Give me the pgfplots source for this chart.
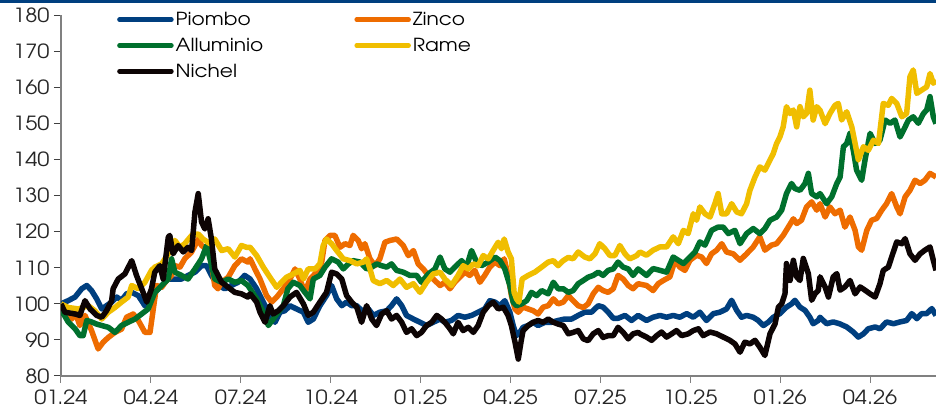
\documentclass[border=0pt]{standalone}
\usepackage{fontspec}
\setmainfont{TeX Gyre Adventor}[FakeStretch=1.12]
\usepackage{pgfplots}
\pgfplotsset{compat=1.18}
\definecolor{cPiombo}{RGB}{0,63,127}
\definecolor{cZinco}{RGB}{238,108,0}
\definecolor{cAllu}{RGB}{0,112,45}
\definecolor{cRame}{RGB}{240,190,0}
\definecolor{cNichel}{RGB}{13,4,4}
\definecolor{cAxis}{RGB}{128,128,128}
\begin{document}
\begin{tikzpicture}
\begin{axis}[
  at={(0pt,0pt)}, anchor=south west,
  scale only axis, width=875pt, height=360.5pt,
  xmin=0, xmax=29.2, ymin=80, ymax=180,
  axis x line*=bottom, axis y line*=left,
  axis line style={cAxis, line width=1.4pt},
  xtick={0,3,6,9,12,15,18,21,24,27},
  xticklabels={01.24,04.24,07.24,10.24,01.25,04.25,07.25,10.25,01.26,04.26},
  ytick={80,90,...,180},
  tick align=outside, major tick length=7pt,
  x tick style={cAxis, line width=1pt},
  y tick style={black!75, line width=1pt},
  tick label style={font=\fontsize{19.5}{22}\selectfont, text=black!85},
  /pgf/number format/assume math mode=true,
  xticklabel style={yshift=-3pt},
  yticklabel style={xshift=-1pt},
  legend columns=2,
  legend cell align=left,
  legend style={draw=none, fill=none, at={(0.064,1.015)}, anchor=north west,
    font=\fontsize{18}{21}\selectfont, inner sep=0pt, row sep=7pt,
    /tikz/every even column/.append style={column sep=89pt}},
  legend image code/.code={\draw[#1, line width=4.5pt, line cap=round] (0pt,0pt) -- (52pt,0pt);},
  every axis plot/.append style={line width=5.5pt, line join=round},
]
% Piombo
\addplot[cPiombo] coordinates {
(0,100) (0.24,100.9) (0.47,101.9) (0.69,104.2) (0.86,105.1) (1.02,103.7) (1.19,101.4) (1.36,98.6) (1.52,99.5) (1.69,100.5) (1.86,101.9) (2.02,101.0) (2.19,102.8) (2.36,103.2) (2.58,102.3) (2.80,99.5) (2.97,100) (3.13,103.2) (3.36,105.1) (3.58,106.9) (3.80,106.9) (4.02,106.9) (4.24,107.9) (4.47,108.8) (4.69,110.6) (4.86,110.6) (5.02,107.9) (5.24,105.1) (5.47,104.2) (5.69,105.1) (5.91,106.0) (6.13,107.9)
(6.31,106.9) (6.53,104.2) (6.75,100.5) (6.97,96.8) (7.14,94.9) (7.31,97.7) (7.47,98.1) (7.64,99.5) (7.86,98.6) (8.09,97.7) (8.25,94.9) (8.42,95.8) (8.64,99.5) (8.86,102.3) (9.03,105.1) (9.20,101.4) (9.37,99.5) (9.53,100.5) (9.70,99.5) (9.87,99.5) (10.09,97.7) (10.26,98.6) (10.42,96.8) (10.64,97.7) (10.87,98.1) (11.03,99.5) (11.20,101.4) (11.37,99.5) (11.53,96.8) (11.76,95.8) (11.98,94.9) (12.20,94.0) (12.42,94.9) (12.65,95.8)
(12.81,94.9) (13.03,95.4) (13.25,96.8) (13.48,96.3) (13.70,96.8) (13.92,97.7) (14.14,98.6) (14.31,100.9) (14.48,100.5) (14.65,99.5) (14.81,100.9) (14.98,97.7) (15.09,94.0) (15.20,91.2) (15.31,92.1) (15.42,93.5) (15.59,94.0) (15.76,94.9) (15.92,94.0) (16.15,94.9) (16.37,94.9) (16.59,95.4) (16.81,95.8) (17.04,95.8) (17.26,96.8) (17.48,97.7) (17.70,97.7) (17.93,99.5) (18.09,99.1) (18.26,97.7) (18.43,96.0) (18.59,96.0) (18.82,96.8) (19.04,95.4) (19.26,96.8)
(19.54,95.4) (19.76,96.3) (19.99,96.8) (20.21,96.3) (20.43,96.8) (20.65,96.3) (20.88,97.3) (21.10,96.3) (21.32,97.7) (21.54,95.4) (21.77,97.3) (21.99,97.7) (22.21,98.6) (22.38,101.0) (22.55,98.2) (22.71,96.3) (22.88,96.8) (23.10,96.3) (23.27,95.4) (23.44,94.0) (23.60,94.9) (23.77,96.3) (23.99,97.3) (24.21,99.1) (24.38,100.0) (24.49,101.0) (24.66,99.1) (24.83,98.2) (24.99,96.3) (25.10,94.5) (25.27,95.4)
(25.33,96.3) (25.55,94.5) (25.77,95.0) (25.98,94.5) (26.22,93.6) (26.44,92.2) (26.61,90.8) (26.78,91.7) (26.94,93.1) (27.17,93.6) (27.33,93.1) (27.55,95.0) (27.78,94.5) (28.00,95.0) (28.22,95.4) (28.39,97.3) (28.56,95.9) (28.72,97.3) (28.89,97.3) (29.06,98.7) (29.20,96.8)
};
\addlegendentry{Piombo}
% Zinco
\addplot[cZinco] coordinates {
(0,100) (0.13,97.7) (0.36,95.8) (0.47,97.7) (0.63,94.0) (0.80,96.8) (1.02,92.6) (1.24,87.5) (1.41,89.4) (1.58,90.7) (1.80,92.1) (2.02,93.0) (2.19,96.3) (2.41,97.2) (2.58,95.4) (2.80,92.1) (2.97,92.1) (3.08,98.6) (3.19,105.1) (3.36,104.6) (3.52,106.5) (3.69,107.9) (3.80,110.6) (3.97,110.2) (4.13,112.5) (4.36,114.4) (4.58,118.0) (4.69,116.2) (4.91,114.8) (5.02,111.6) (5.13,105.1) (5.24,104.2) (5.36,106.0) (5.58,107.4) (5.80,110.6) (6.02,112.5) (6.24,111.6)
(6.31,112.5) (6.47,109.7) (6.64,106.9) (6.86,102.3) (7.03,100.5) (7.20,101.9) (7.42,104.2) (7.64,106.9) (7.81,109.7) (7.97,106.9) (8.14,103.2) (8.31,106.9) (8.53,108.8) (8.70,111.6) (8.81,117.6) (8.98,119.0) (9.14,119.0) (9.31,115.7) (9.48,116.7) (9.64,116.2) (9.75,119.0) (9.92,117.6) (10.03,115.3) (10.14,116.7) (10.31,112.5) (10.48,110.6) (10.64,112.5) (10.81,117.1) (10.98,117.6) (11.20,118.0) (11.42,116.2) (11.59,113.4) (11.76,114.8) (11.92,111.1) (12.09,109.7) (12.26,107.9) (12.42,106.9) (12.65,105.1)
(12.81,106.0) (12.98,104.2) (13.14,106.0) (13.31,107.4) (13.48,108.8) (13.64,107.9) (13.81,109.3) (13.98,106.0) (14.14,107.9) (14.31,110.2) (14.48,111.6) (14.65,110.6) (14.79,112.5) (14.92,107.9) (15.03,102.3) (15.15,98.6) (15.26,97.7) (15.42,99.1) (15.59,98.6) (15.76,98.1) (15.92,97.2) (16.09,99.1) (16.26,99.5) (16.43,101.4) (16.59,100.0) (16.76,100.5) (16.93,102.3) (17.09,100.9) (17.26,99.5) (17.43,99.0) (17.59,100.0) (17.76,102.8) (17.93,104.6) (18.09,103.7) (18.26,103.2) (18.43,104.2) (18.59,107.9) (18.76,106.9) (18.93,105.1) (19.09,104.2) (19.26,105.6)
(19.54,105.1) (19.76,103.7) (19.93,105.6) (20.10,106.5) (20.32,107.5) (20.49,112.1) (20.65,110.2) (20.82,109.3) (20.99,112.1) (21.21,113.5) (21.38,113.0) (21.54,111.2) (21.71,113.9) (21.88,114.9) (22.05,116.7) (22.21,114.4) (22.43,113.9) (22.66,112.1) (22.88,113.9) (23.10,115.8) (23.32,118.6) (23.49,114.9) (23.71,116.3) (23.88,116.7) (24.10,119.0) (24.27,121.3) (24.44,123.6) (24.55,122.3) (24.71,123.2) (24.88,126.9) (25.05,128.3) (25.22,126.0)
(25.33,127.8) (25.50,124.1) (25.66,126.9) (25.83,125.0) (26.00,126.0) (26.16,121.3) (26.33,124.1) (26.50,120.4) (26.61,115.8) (26.72,114.9) (26.89,120.4) (27.05,123.2) (27.22,123.7) (27.39,126.0) (27.55,127.8) (27.72,130.6) (27.89,126.9) (28.00,125.0) (28.17,129.7) (28.33,131.5) (28.50,134.3) (28.67,133.4) (28.83,134.3) (29.00,136.2) (29.20,135.2)
};
\addlegendentry{Zinco}
% Alluminio
\addplot[cAllu] coordinates {
(0,100) (0.05,97.7) (0.24,95.0) (0.47,93.1) (0.63,91.2) (0.74,91.2) (0.86,95.4) (1.02,95.0) (1.19,94.4) (1.36,94.0) (1.58,93.5) (1.80,92.1) (2.02,94.0) (2.24,94.9) (2.47,95.8) (2.69,97.2) (2.91,98.6) (3.13,103.2) (3.36,105.1) (3.58,106.9) (3.69,112.5) (3.80,108.8) (4.02,107.9) (4.24,106.9) (4.47,109.7) (4.69,112.5) (4.86,116.2) (4.97,112.5) (5.13,106.9) (5.36,106.0) (5.58,106.9) (5.80,106.0) (6.02,106.5) (6.24,105.1)
(6.31,104.2) (6.53,101.4) (6.75,97.7) (6.92,94.0) (7.08,95.8) (7.25,97.7) (7.42,99.5) (7.57,104.2) (7.75,106.0) (7.97,105.1) (8.14,103.2) (8.31,101.4) (8.42,106.9) (8.64,107.9) (8.81,110.2) (9.03,112.5) (9.25,111.6) (9.42,109.7) (9.59,111.1) (9.75,112.0) (9.98,111.6) (10.20,109.7) (10.37,110.2) (10.53,111.1) (10.70,110.6) (10.87,110.2) (11.03,111.1) (11.20,109.3) (11.42,108.8) (11.64,107.9) (11.87,107.9) (12.03,106.0) (12.26,108.3) (12.48,109.7) (12.65,113.0)
(12.81,109.7) (12.98,108.8) (13.14,110.2) (13.37,112.0) (13.53,110.2) (13.70,114.8) (13.87,111.6) (14.03,110.6) (14.26,111.6) (14.48,113.0) (14.65,112.0) (14.81,109.7) (14.98,105.1) (15.09,100.5) (15.20,99.5) (15.37,100.0) (15.54,100.9) (15.70,103.2) (15.87,102.3) (16.04,103.7) (16.26,102.8) (16.43,106.0) (16.59,104.2) (16.76,104.2) (16.93,103.2) (17.09,103.7) (17.26,105.6) (17.43,106.5) (17.59,107.4) (17.76,107.9) (17.93,108.8) (18.09,107.9) (18.26,109.3) (18.43,109.7) (18.59,111.6) (18.76,110.2) (18.93,109.7) (19.09,107.9) (19.26,109.7)
(19.54,107.9) (19.76,109.8) (19.99,109.3) (20.21,108.8) (20.43,113.0) (20.60,112.1) (20.77,111.2) (20.93,112.5) (21.16,114.4) (21.32,117.2) (21.49,116.3) (21.71,120.4) (21.93,121.3) (22.10,121.3) (22.27,119.5) (22.49,120.4) (22.66,116.7) (22.88,119.5) (23.10,120.9) (23.32,119.5) (23.49,120.9) (23.66,123.2) (23.88,124.1) (24.05,126.0) (24.21,130.6) (24.38,133.4) (24.49,132.0) (24.66,131.5) (24.83,133.4) (24.94,136.2) (25.05,130.6) (25.22,129.7)
(25.33,130.6) (25.55,127.8) (25.72,129.7) (25.89,133.4) (26.00,135.2) (26.11,143.6) (26.22,144.5) (26.33,147.3) (26.44,142.6) (26.55,137.1) (26.72,134.3) (26.83,139.9) (27.00,147.3) (27.17,144.5) (27.33,145.4) (27.50,151.0) (27.67,150.1) (27.83,151.0) (28.00,146.3) (28.17,149.1) (28.28,151.0) (28.44,151.9) (28.61,150.1) (28.78,152.8) (28.89,153.8) (29.00,157.5) (29.11,151.9) (29.20,150.0)
};
\addlegendentry{Alluminio}
% Rame
\addplot[cRame] coordinates {
(0,100) (0.24,99.0) (0.58,98.6) (0.91,99.5) (1.13,98.1) (1.36,95.8) (1.58,97.7) (1.80,99.0) (2.02,100.5) (2.24,101.9) (2.36,105.1) (2.58,104.2) (2.80,106.0) (3.02,109.3) (3.13,110.2) (3.36,111.1) (3.58,113.9) (3.80,117.6) (3.97,115.7) (4.13,116.7) (4.36,119.0) (4.58,119.4) (4.74,118.0) (4.97,116.7) (5.13,118.0) (5.36,114.8) (5.58,115.3) (5.80,113.0) (6.02,116.2) (6.19,115.7)
(6.31,115.7) (6.53,113.4) (6.75,110.2) (6.97,107.4) (7.20,104.6) (7.36,106.0) (7.53,107.4) (7.75,108.3) (7.97,109.3) (8.09,106.9) (8.25,109.7) (8.48,109.7) (8.64,111.1) (8.75,116.2) (8.86,118.0) (9.03,116.7) (9.20,114.8) (9.42,112.5) (9.64,112.0) (9.87,111.1) (10.09,111.6) (10.20,112.5) (10.31,109.7) (10.42,106.5) (10.64,105.6) (10.87,106.5) (11.09,105.1) (11.31,106.9) (11.53,104.6) (11.76,105.6) (11.98,103.2) (12.20,106.0) (12.42,108.3) (12.65,108.8)
(12.81,106.9) (13.03,105.1) (13.25,107.9) (13.42,110.6) (13.59,109.7) (13.76,111.1) (13.92,110.6) (14.09,113.4) (14.26,112.5) (14.42,114.8) (14.59,117.1) (14.70,115.3) (14.79,118.0) (14.92,114.4) (15.03,112.5) (15.12,103.2) (15.20,101.4) (15.28,100.5) (15.39,106.9) (15.59,107.9) (15.81,108.8) (16.04,110.2) (16.26,111.6) (16.43,112.0) (16.59,110.6) (16.76,112.0) (16.93,112.9) (17.09,112.5) (17.26,114.4) (17.48,113.0) (17.65,112.5) (17.82,113.9) (17.98,116.7) (18.15,115.3) (18.32,113.4) (18.48,113.4) (18.65,116.2) (18.82,113.9) (18.98,112.5) (19.21,113.4)
(19.32,114.4) (19.54,113.5) (19.76,114.9) (19.99,115.8) (20.21,115.8) (20.43,118.6) (20.60,116.7) (20.77,120.4) (20.93,119.5) (21.10,125.0) (21.21,123.2) (21.32,126.9) (21.49,125.0) (21.66,124.1) (21.82,127.8) (21.93,130.6) (22.05,125.0) (22.21,125.0) (22.38,127.8) (22.55,125.5) (22.71,125.0) (22.88,127.8) (22.99,131.5) (23.16,135.2) (23.32,138.0) (23.49,137.1) (23.66,139.9) (23.77,141.7) (23.88,144.5) (23.99,146.3) (24.10,149.1) (24.21,154.7) (24.33,152.8) (24.44,153.8) (24.55,149.1) (24.66,154.7) (24.77,151.9) (24.88,152.8) (24.99,159.3) (25.10,151.0) (25.22,154.7)
(25.33,153.7) (25.50,150.0) (25.66,152.8) (25.83,155.1) (25.94,155.6) (26.05,151.0) (26.22,153.3) (26.39,149.1) (26.50,144.5) (26.61,139.9) (26.78,143.6) (26.94,142.6) (27.11,145.4) (27.28,144.5) (27.44,155.6) (27.61,155.1) (27.72,157.0) (27.89,155.6) (28.06,151.9) (28.22,152.8) (28.33,163.0) (28.44,164.9) (28.56,158.4) (28.72,159.3) (28.89,160.2) (29.00,163.9) (29.11,161.2) (29.20,162.1)
};
\addlegendentry{Rame}
% Nichel
\addplot[cNichel] coordinates {
(0,100) (0.13,97.7) (0.47,97.2) (0.63,96.8) (0.80,100.9) (0.97,98.6) (1.19,96.8) (1.36,96.3) (1.52,98.1) (1.69,100.9) (1.74,104.2) (1.91,106.9) (2.13,108.3) (2.36,112.0) (2.52,107.9) (2.74,103.2) (2.86,100.5) (3.02,104.2) (3.13,108.8) (3.30,110.6) (3.41,106.9) (3.58,118.5) (3.63,119.0) (3.74,113.9) (3.91,116.2) (4.08,114.4) (4.24,115.7) (4.36,114.8) (4.47,125.5) (4.58,130.6) (4.69,122.7) (4.80,120.8) (4.91,123.6) (5.02,118.0) (5.13,109.7) (5.36,106.0) (5.58,104.6) (5.80,103.2) (6.02,102.8) (6.24,101.9)
(6.31,102.8) (6.53,100.5) (6.64,97.7) (6.81,94.9) (6.97,99.5) (7.08,97.2) (7.25,98.1) (7.42,99.5) (7.64,101.9) (7.86,103.2) (8.09,100.0) (8.25,96.8) (8.42,97.7) (8.64,100.5) (8.86,103.2) (9.03,108.8) (9.20,108.3) (9.37,106.9) (9.53,102.3) (9.70,100.5) (9.87,99.1) (10.03,94.9) (10.20,99.5) (10.37,95.8) (10.53,94.0) (10.70,97.2) (10.87,98.1) (11.03,95.8) (11.20,96.8) (11.37,94.9) (11.53,92.1) (11.70,93.1) (11.87,91.2) (12.03,92.1) (12.20,94.0) (12.37,94.9) (12.54,96.8) (12.70,95.8)
(12.81,94.9) (12.98,93.1) (13.09,91.7) (13.25,94.9) (13.42,92.6) (13.59,93.5) (13.76,92.1) (13.92,94.0) (14.09,97.7) (14.26,99.5) (14.42,100.5) (14.59,98.6) (14.76,99.1) (14.92,96.8) (15.03,94.0) (15.15,89.4) (15.26,84.7) (15.35,89.4) (15.42,92.6) (15.59,94.0) (15.76,94.9) (15.92,95.4) (16.09,94.9) (16.26,95.8) (16.43,94.9) (16.59,94.4) (16.76,94.0) (16.93,91.7) (17.09,92.1) (17.26,92.6) (17.43,90.3) (17.59,89.8) (17.76,91.7) (17.93,92.6) (18.09,90.7) (18.26,91.2) (18.43,91.2) (18.59,93.5) (18.76,92.1) (18.93,90.3) (19.09,91.7) (19.26,92.1)
(19.32,91.7) (19.54,90.8) (19.71,89.9) (19.88,91.2) (20.04,92.2) (20.21,90.8) (20.38,91.7) (20.54,92.6) (20.71,91.2) (20.93,91.7) (21.10,92.6) (21.27,93.1) (21.43,91.2) (21.66,92.2) (21.88,91.7) (22.10,90.8) (22.32,89.9) (22.49,88.9) (22.66,86.6) (22.82,89.4) (22.99,88.9) (23.16,89.9) (23.32,88.0) (23.49,85.7) (23.66,91.7) (23.83,94.5) (23.94,99.1) (24.05,100.0) (24.16,102.8) (24.21,111.2) (24.33,106.5) (24.44,112.1) (24.55,107.5) (24.66,106.5) (24.77,112.6) (24.94,108.4) (25.05,101.0) (25.16,102.8) (25.27,103.7)
(25.33,107.5) (25.50,104.7) (25.61,101.9) (25.77,107.5) (25.89,108.4) (26.00,103.8) (26.16,104.7) (26.33,106.5) (26.50,102.8) (26.67,104.7) (26.83,103.8) (27.00,102.8) (27.17,101.9) (27.33,105.6) (27.44,109.3) (27.61,110.2) (27.72,113.0) (27.89,117.2) (28.06,116.7) (28.17,118.1) (28.33,113.9) (28.50,112.1) (28.67,113.9) (28.83,114.9) (29.00,115.8) (29.11,112.1) (29.20,109.3)
};
\addlegendentry{Nichel}
\end{axis}
\fill[cPiombo] (-61pt,372.5pt) rectangle (875pt,376pt);
\pgfresetboundingbox
\path (-61pt,-43pt) rectangle (875pt,376pt);
\end{tikzpicture}
\end{document}
